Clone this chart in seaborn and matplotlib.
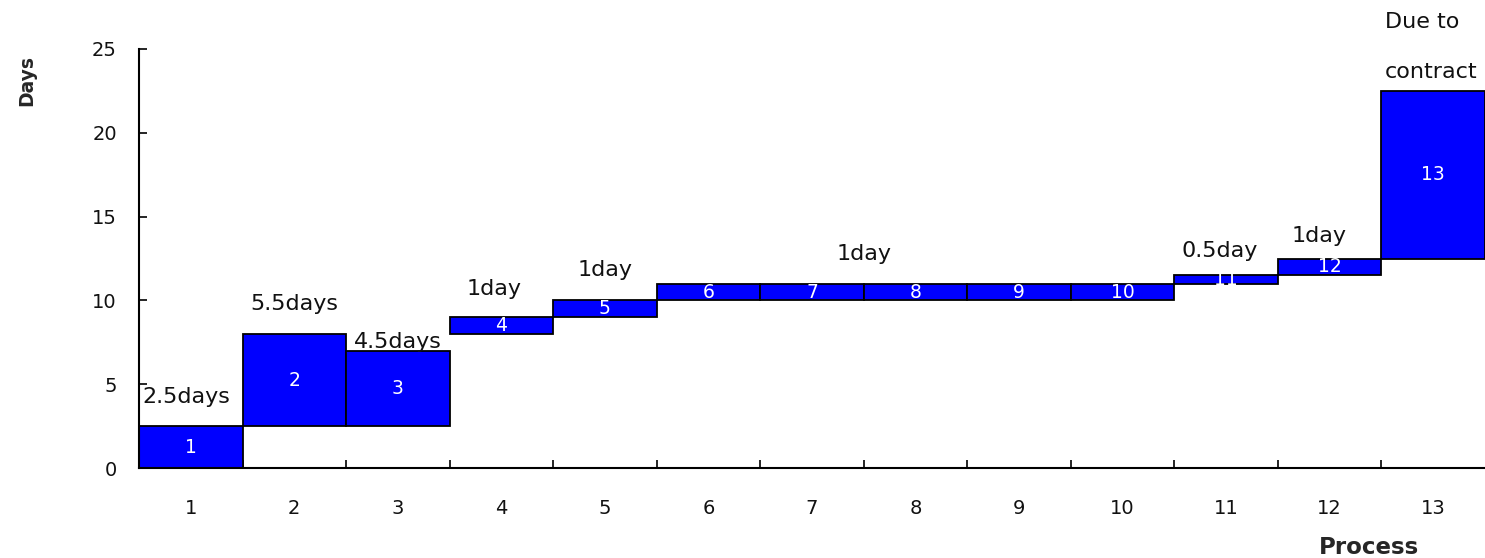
import matplotlib
matplotlib.use("Agg")
import matplotlib.pyplot as plt
from matplotlib.ticker import FixedLocator
import seaborn as sns
import pandas as pd

# Process steps and their durations (days), stacked one after another
processes = ["1", "2", "3", "4", "5", "6", "7", "8", "9", "10", "11", "12", "13"]
starts = [0, 2.5, 2.5, 8, 9, 10, 10, 10, 10, 10, 11, 11.5, 12.5]
durations = [2.5, 5.5, 4.5, 1, 1, 1, 1, 1, 1, 1, 0.5, 1, 10]

# Duration notes and the bar each one hangs over
notes = ["2.5days", "5.5days", "4.5days", "1day", "1day", "1day", "0.5day", "1day", "Due to\ncontract"]
note_bar = [0, 1, 2, 3, 4, 7, 10, 11, 12]
note_x_shift = [-0.04, 0.0, 0.0, -0.07, 0.0, -0.5, -0.06, -0.1, -0.47]
note_offset_px = [29, 30, 9, 28, 30, 30, 24, 22, 19]

tops = [s + d for s, d in zip(starts, durations)]
df = pd.DataFrame({"process": processes, "duration": durations})

sns.set_style("white")
plt.rcParams["font.family"] = ["DejaVu Sans"]

fig = plt.figure(figsize=(14.85, 5.58), dpi=100)
ax = fig.add_axes([139 / 1485, 1 - 468 / 558, 1 - 139 / 1485, (468 - 49) / 558])

sns.barplot(data=df, x="process", y="duration", bottom=starts, width=1.0,
            color="#0000FF", saturation=1, edgecolor="black", linewidth=1.3,
            ax=ax, order=processes)

ax.set_xlim(-0.5, len(processes) - 0.5)
ax.set_ylim(0, 25)
ax.set_yticks([0, 5, 10, 15, 20, 25])
ax.set_xlabel("")
ax.set_ylabel("")

# Labels sit on categories, tick marks on the boundaries between them
ax.xaxis.set_minor_locator(FixedLocator([i + 0.5 for i in range(len(processes) - 1)]))
ax.tick_params(axis="x", which="major", length=0, pad=22, labelsize=14, colors="#111111")
ax.tick_params(axis="x", which="minor", direction="in", length=6, width=1.2,
               color="black", bottom=True)
ax.tick_params(axis="y", direction="in", length=6, width=1.2, color="black", pad=16,
               labelsize=14, labelcolor="#111111", left=True)

for side in ("top", "right"):
    ax.spines[side].set_visible(False)
for side in ("left", "bottom"):
    ax.spines[side].set_color("black")
    ax.spines[side].set_linewidth(1.5)

# Process numbers inside the bars
for i, (s, d) in enumerate(zip(starts, durations)):
    ax.text(i, s + d / 2, processes[i], color="white", ha="center", va="center", fontsize=13.5)

# Duration notes above the bars
for txt, b, dx, off in zip(notes, note_bar, note_x_shift, note_offset_px):
    lines = txt.split("\n")
    ha = "left" if len(lines) > 1 else "center"
    for k, line in enumerate(reversed(lines)):
        ax.annotate(line, xy=(b + dx, tops[b]), xytext=(0, off + 50 * k),
                    textcoords="offset pixels", ha=ha, va="center", fontsize=16,
                    color="#111111", annotation_clip=False)

fig.text(27 / 1485, 1 - 80 / 558, "Days", rotation=90, ha="center", va="center",
         fontsize=13.5, fontweight="bold")
fig.text(1369 / 1485, 1 - 548 / 558, "Process", ha="center", va="center",
         fontsize=16.5, fontweight="bold")

fig.savefig("out.png", dpi=100)
